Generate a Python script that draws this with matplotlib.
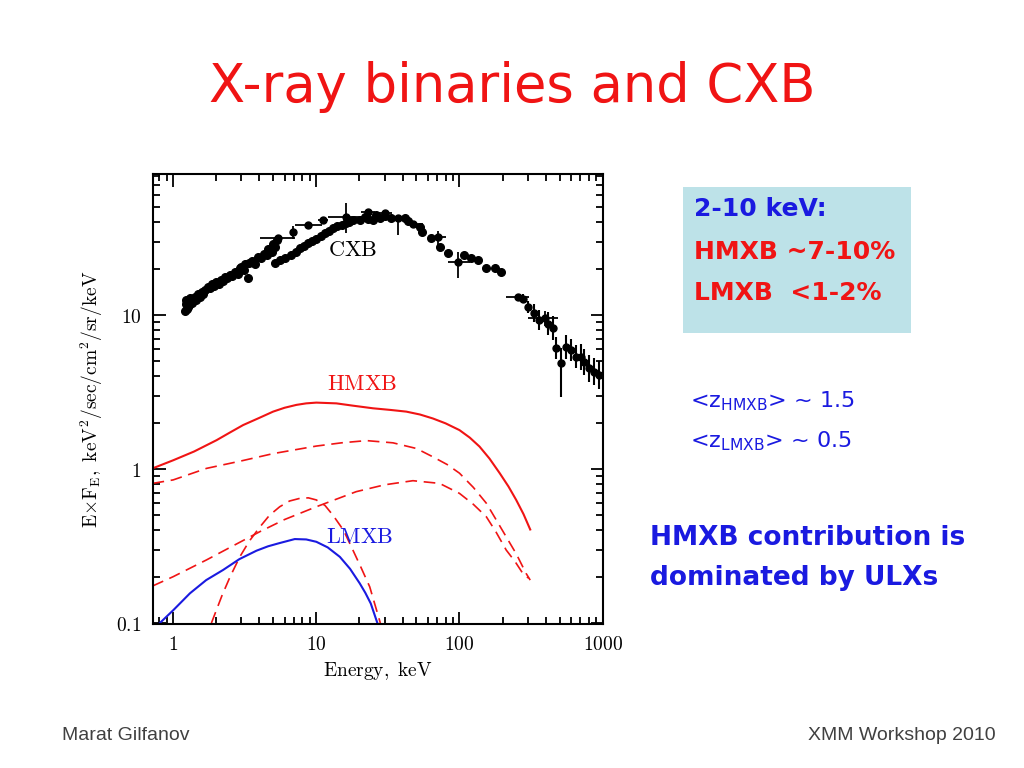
import numpy as np
import matplotlib.pyplot as plt
from matplotlib.patches import Rectangle

plt.rcParams['mathtext.fontset'] = 'cm'

# CXB measurements (dense band), keV and keV^2/sec/cm^2/sr/keV
cxb_e = [1.21, 1.22, 1.23, 1.25, 1.27, 1.28, 1.30, 1.32, 1.35, 1.38, 1.42, 1.45,
         1.50, 1.54, 1.58, 1.62, 1.68, 1.75, 1.80, 1.86, 1.92, 2.00, 2.08, 2.15,
         2.23, 2.29, 2.38, 2.48, 2.58, 2.70, 2.82, 2.92, 3.00, 3.10, 3.20, 3.34,
         3.40, 3.55, 3.70, 3.92, 4.10, 4.30, 4.50, 4.60, 4.70, 4.90, 5.00, 5.13,
         5.13, 5.30, 5.60, 6.00, 6.70, 7.20, 7.70, 8.20, 8.75, 9.30, 10.0, 10.7,
         11.5, 12.3, 13.1, 14.0, 15.0, 16.0, 17.0, 18.0, 20.1, 22.0, 23.0, 24.8,
         26.3, 28.0, 30.0, 33.4, 41.4, 44.0, 52.6, 55.0, 63.6, 72.6, 83.0, 108,
         121, 134, 154, 176, 196]
cxb_f = [10.6, 11.8, 12.6, 10.9, 11.3, 12.2, 11.6, 13.0, 12.0, 12.4, 13.1, 12.6,
         13.6, 13.1, 14.2, 13.8, 14.6, 15.3, 14.9, 15.8, 15.4, 16.3, 16.0, 17.0,
         16.6, 17.7, 17.4, 18.3, 18.0, 19.0, 18.6, 20.2, 20.6, 19.6, 21.3, 17.3,
         21.8, 22.5, 21.5, 23.9, 23.3, 25.0, 24.4, 27.0, 26.2, 25.8, 29.0, 27.8,
         21.7, 30.5, 22.7, 23.5, 24.5, 25.8, 27.3, 28.0, 29.2, 30.2, 31.3, 32.6,
         33.9, 35.3, 36.5, 37.6, 38.4, 39.5, 40.3, 41.4, 41.4, 43.5, 42.0, 41.4,
         44.6, 43.0, 44.0, 42.8, 42.4, 41.0, 37.5, 34.7, 31.5, 27.8, 25.2, 24.5,
         23.3, 22.8, 20.1, 20.3, 19.1]

# points with large error bars
bar_e = [5.4, 6.87, 8.75, 11.1, 16.2, 23.0, 30.0, 37.2, 47.3, 70.7, 97.5, 256, 393]
bar_f = [31.5, 34.7, 38.4, 41.4, 43.5, 46.9, 45.7, 42.4, 38.8, 32.2, 22.0, 13.1, 9.6]
bar_elo = [4.03, 6.6, 7.07, 10.3, 12.1, 20.5, 27.5, 36.0, 43.0, 61.0, 83.0, 212, 300]
bar_ehi = [7.07, 7.1, 10.9, 12.0, 20.1, 25.8, 34.0, 38.5, 56.0, 80.0, 118, 308, 490]
bar_flo = [30.0, 31.0, 37.0, 39.5, 33.9, 45.5, 44.0, 33.0, 37.5, 28.0, 17.3, 12.5, 8.5]
bar_fhi = [33.0, 38.0, 40.0, 43.5, 53.1, 48.0, 47.5, 44.0, 40.0, 35.0, 25.8, 13.8, 10.6]

# hard X-ray points
hard_e = [277, 300, 334, 362, 414, 449, 474, 513, 556, 603, 653, 708, 746, 809, 877, 950]
hard_f = [12.8, 11.3, 10.3, 9.3, 8.8, 8.2, 6.1, 4.85, 6.2, 5.93, 5.36, 5.36, 4.98, 4.5, 4.29, 4.07]
hard_flo = [12.0, 10.3, 9.0, 8.0, 7.4, 6.9, 5.2, 2.94, 5.2, 5.0, 4.5, 4.4, 4.1, 3.7, 3.5, 3.3]
hard_fhi = [13.6, 12.4, 11.8, 10.8, 10.4, 9.8, 7.2, 6.1, 7.4, 7.0, 6.4, 6.5, 6.0, 5.5, 5.3, 5.0]

# HMXB model: total and components
hmxb_e = [0.718, 1.0, 1.4, 2.01, 2.5, 3.08, 4.0, 4.99, 6.0, 7.26, 8.5, 10, 13.8, 18,
          24.9, 33, 42.5, 53, 65.2, 80, 100, 118, 138, 162, 191, 220, 249, 280, 312]
hmxb_f = [1.01, 1.14, 1.30, 1.54, 1.73, 1.93, 2.15, 2.36, 2.50, 2.61, 2.67, 2.70, 2.67,
          2.58, 2.48, 2.42, 2.36, 2.26, 2.13, 1.98, 1.79, 1.60, 1.40, 1.17, 0.94,
          0.77, 0.63, 0.51, 0.405]
comp1_e = [0.718, 1.0, 1.71, 3.0, 5.0, 10, 15, 22.4, 34.3, 50, 65.2, 82, 100, 125,
           154, 180, 212, 250, 292, 312]
comp1_f = [0.807, 0.85, 1.01, 1.13, 1.26, 1.41, 1.48, 1.53, 1.48, 1.36, 1.20, 1.07,
           0.94, 0.76, 0.60, 0.47, 0.363, 0.28, 0.21, 0.19]
comp2_e = [0.718, 1.0, 1.71, 2.5, 4.03, 6.0, 10, 19.0, 30, 47.3, 72.6, 100, 125, 154,
           180, 212, 245, 277, 305]
comp2_f = [0.174, 0.20, 0.257, 0.31, 0.392, 0.47, 0.569, 0.713, 0.79, 0.84, 0.807,
           0.695, 0.59, 0.49, 0.39, 0.298, 0.25, 0.21, 0.195]
comp3_e = [1.85, 2.2, 2.5, 2.92, 3.4, 4.03, 4.7, 5.55, 6.5, 7.66, 8.8, 10, 11.5, 13.1,
           15.5, 18.0, 20.5, 23.6, 28.0]
comp3_f = [0.1, 0.152, 0.20, 0.269, 0.34, 0.42, 0.50, 0.569, 0.62, 0.645, 0.65, 0.63,
           0.58, 0.50, 0.40, 0.298, 0.23, 0.172, 0.1]

# LMXB model
lmxb_e = [0.807, 1.0, 1.31, 1.7, 2.23, 2.9, 3.82, 4.6, 5.5, 7.07, 8.5, 10, 12.0, 14.6,
          17.2, 20.1, 22.0, 24.0, 26.7]
lmxb_f = [0.1, 0.121, 0.156, 0.19, 0.221, 0.26, 0.295, 0.315, 0.33, 0.351, 0.349,
          0.337, 0.31, 0.269, 0.225, 0.181, 0.157, 0.134, 0.1]

xticks = [1, 10, 100, 1000]
xtick_labels = ['1', '10', '100', '1000']
yticks = [0.1, 1, 10]
ytick_labels = ['0.1', '1', '10']

red = '#f01414'
blue = '#1a1ae0'

fig = plt.figure(figsize=(10.24, 7.68), dpi=100)
ax = fig.add_axes([0.149, 0.187, 0.4395, 0.586])

# CXB data
ax.plot(cxb_e, cxb_f, 'o', color='black', ms=5.5)
bar_e_a = np.array(bar_e)
bar_f_a = np.array(bar_f)
ax.errorbar(bar_e_a, bar_f_a,
            xerr=[bar_e_a - np.array(bar_elo), np.array(bar_ehi) - bar_e_a],
            yerr=[bar_f_a - np.array(bar_flo), np.array(bar_fhi) - bar_f_a],
            fmt='o', color='black', ms=5, elinewidth=1.3, capsize=0)
hard_f_a = np.array(hard_f)
ax.errorbar(hard_e, hard_f_a,
            yerr=[hard_f_a - np.array(hard_flo), np.array(hard_fhi) - hard_f_a],
            fmt='o', color='black', ms=5, elinewidth=1.5, capsize=0)

# models
ax.plot(hmxb_e, hmxb_f, color=red, lw=1.5)
ax.plot(comp1_e, comp1_f, color=red, lw=1.2, ls=(0, (7, 4)))
ax.plot(comp2_e, comp2_f, color=red, lw=1.2, ls=(0, (7, 4)))
ax.plot(comp3_e, comp3_f, color=red, lw=1.2, ls=(0, (7, 4)))
ax.plot(lmxb_e, lmxb_f, color=blue, lw=1.5)

ax.text(18.0, 26.4, r'$\rm CXB$', fontsize=16, ha='center', va='center')
ax.text(21.0, 3.57, r'$\rm HMXB$', fontsize=16, ha='center', va='center', color=red)
ax.text(20.1, 0.36, r'$\rm LMXB$', fontsize=16, ha='center', va='center', color=blue)

ax.set_xscale('log')
ax.set_yscale('log')
ax.set_xlim(0.718, 1000)
ax.set_ylim(0.098, 82)
ax.set_xticks(xticks, [r'$\rm %s$' % s for s in xtick_labels])
ax.set_yticks(yticks, [r'$\rm %s$' % s for s in ytick_labels])
ax.tick_params(which='both', direction='in', top=True, right=True, width=1.3,
               labelsize=14)
ax.tick_params(which='major', length=9, pad=8)
ax.tick_params(which='minor', length=5)
for s in ax.spines.values():
    s.set_linewidth(1.5)
ax.set_xlabel(r'$\rm Energy,\ keV$', fontsize=14, labelpad=4)
ax.set_ylabel(r'$\rm E{\times}F_E,\ keV^2/sec/cm^2/sr/keV$', fontsize=14, labelpad=8)

# slide texts
fig.text(0.5, 0.887, 'X-ray binaries and CXB', color=red, fontsize=38,
         ha='center', va='center', family='DejaVu Sans')

fig.patches.append(Rectangle((682.7 / 1024, 1 - 332.7 / 768), 228 / 1024, 145.4 / 768,
                             transform=fig.transFigure, facecolor='#bde2e8',
                             edgecolor='none'))
fig.text(694 / 1024, 1 - 209 / 768, '2-10 keV:', color=blue, fontsize=18,
         fontweight='bold', va='center')
fig.text(694 / 1024, 1 - 252 / 768, 'HMXB ~7-10%', color=red, fontsize=18,
         fontweight='bold', va='center')
fig.text(694 / 1024, 1 - 293 / 768, 'LMXB  <1-2%', color=red, fontsize=18,
         fontweight='bold', va='center')

fig.text(690 / 1024, 1 - 401 / 768, r'<z$_{\mathsf{HMXB}}$> ~ 1.5', color=blue,
         fontsize=16, va='center', math_fontfamily='dejavusans')
fig.text(690 / 1024, 1 - 441 / 768, r'<z$_{\mathsf{LMXB}}$> ~ 0.5', color=blue,
         fontsize=16, va='center', math_fontfamily='dejavusans')

fig.text(650 / 1024, 1 - 538 / 768, 'HMXB contribution is', color=blue, fontsize=19,
         fontweight='bold', va='center')
fig.text(650 / 1024, 1 - 578 / 768, 'dominated by ULXs', color=blue, fontsize=19,
         fontweight='bold', va='center')

fig.text(62 / 1024, 1 - 736 / 768, 'Marat Gilfanov', color='#404040', fontsize=14,
         va='center', family='Liberation Sans')
fig.text(996 / 1024, 1 - 736 / 768, 'XMM Workshop 2010', color='#404040', fontsize=14,
         va='center', ha='right', family='Liberation Sans')

fig.savefig('out.png', dpi=100)
